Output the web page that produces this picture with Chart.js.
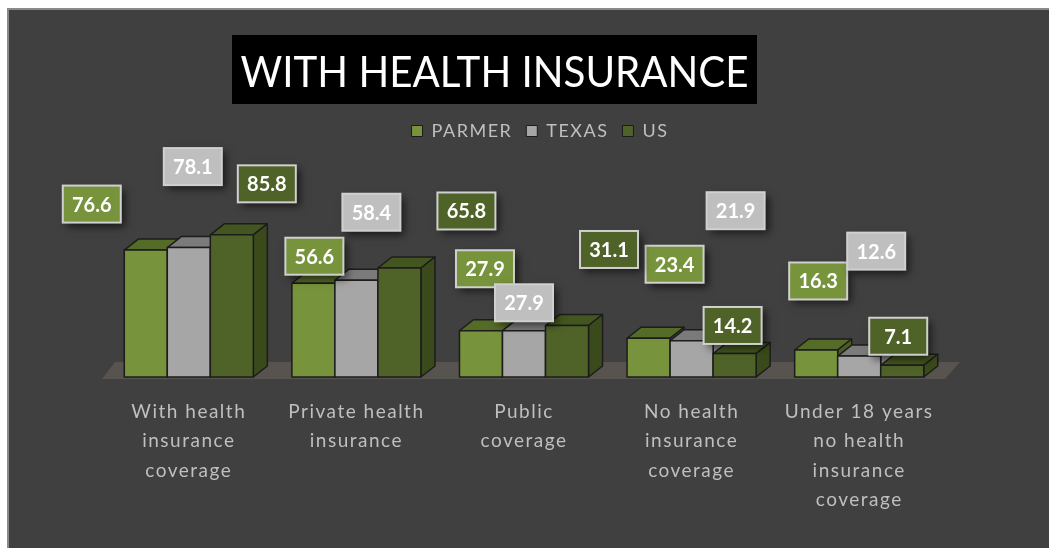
<!DOCTYPE html>
<html>
<head>
<meta charset="utf-8">
<script src="https://cdn.jsdelivr.net/npm/chart.js@4.4.0/dist/chart.umd.min.js"></script>
<style>
    html, body { margin: 0; padding: 0; background: #ffffff; }
    #wrap {
        position: absolute; left: 7px; top: 8px;
        width: 1040px; height: 538px;
        background: #404040;
        border-left: 2px solid #8a8a8a;
        border-top: 2px solid #8a8a8a;
    }
    canvas { display: block; }
</style>
</head>
<body>
<div id="wrap"><canvas id="healthChart" width="1040" height="538"></canvas></div>
<script>
// -------------------------------
// Data
// -------------------------------
const chartTitle = "WITH HEALTH INSURANCE";
const categories = [
    ["With health", "insurance", "coverage"],
    ["Private health", "insurance"],
    ["Public", "coverage"],
    ["No health", "insurance", "coverage"],
    ["Under 18 years", "no health", "insurance", "coverage"]
];
const seriesNames = ["PARMER", "TEXAS", "US"];
const parmerValues = [76.6, 56.6, 27.9, 23.4, 16.3];
const texasValues = [78.1, 58.4, 27.9, 21.9, 12.6];
const usValues = [85.8, 65.8, 31.1, 14.2, 7.1];

// colours: front, top, side, label box
const seriesColors = [
    { front: "#77933c", top: "#556b28", side: "#4a5e22", label: "#77933c" },
    { front: "#a6a6a6", top: "#7b7b7b", side: "#8a8a8a", label: "#bfbfbf" },
    { front: "#4f6228", top: "#44561f", side: "#3b4a1b", label: "#4f6228" }
];

// where each data label sits, relative to the top of its bar (Excel scattered them)
const labelOffsets = [
    [[-54, -46], [1, -27], [4, -62], [26, -74], [2, -69]],
    [[4, -81], [15, -68], [0, -28], [44, -130], [17, -105]],
    [[35, -51], [67, -57], [42, -76], [-2, -28], [-4, -29]]
];

const DEPTH_X = 14;
const DEPTH_Y = -11;
const FONT = "Lato";

// -------------------------------
// Letter spacing for legend + axis text (Excel export looks spaced out)
// -------------------------------
const spacing = {
    id: "spacing",
    beforeLayout(chart) { chart.ctx.letterSpacing = "1.5px"; },
    afterLayout(chart) {
        // legend in the original sits a bit right of centre
        chart.legend.left += 16;
        chart.legend.right += 16;
    },
    beforeDraw(chart) { chart.ctx.letterSpacing = "1.5px"; }
};

// -------------------------------
// Title in a black box
// -------------------------------
const titleBox = {
    id: "titleBox",
    beforeDraw(chart) {
        const ctx = chart.ctx;
        ctx.save();
        ctx.letterSpacing = "0px";
        ctx.fillStyle = "#000000";
        ctx.fillRect(223, 25, 525, 69);
        ctx.font = "43px " + FONT;
        ctx.fillStyle = "#ffffff";
        ctx.textAlign = "center";
        ctx.textBaseline = "alphabetic";
        const w = ctx.measureText(chartTitle).width;
        const sx = Math.min(1, 508 / w);
        ctx.translate(485.5, 77);
        ctx.scale(sx, 1);
        ctx.fillText(chartTitle, 0, 0);
        ctx.restore();
    }
};

// -------------------------------
// Floor + 3D columns (drawn left to right so faces hide properly)
// -------------------------------
const bar3d = {
    id: "bar3d",
    beforeDatasetsDraw(chart) {
        const { ctx, chartArea } = chart;
        const base = chart.scales.y.getPixelForValue(0);
        ctx.save();
        ctx.fillStyle = "#57534e";
        ctx.beginPath();
        ctx.moveTo(chartArea.left - 3, base + 2);
        ctx.lineTo(chartArea.left + 10, base - 15);
        ctx.lineTo(chartArea.right + 17, base - 15);
        ctx.lineTo(chartArea.right + 2, base + 2);
        ctx.closePath();
        ctx.fill();
        ctx.restore();
    },
    beforeDatasetDraw() {
        return false; // we draw the columns ourselves
    },
    afterDatasetsDraw(chart) {
        const ctx = chart.ctx;
        ctx.save();
        ctx.strokeStyle = "#1c1c1c";
        ctx.lineWidth = 1.5;
        ctx.lineJoin = "round";
        chart.data.datasets.forEach((ds, i) => {
            const col = seriesColors[i];
            chart.getDatasetMeta(i).data.forEach(bar => {
                const { x, y, width, base } = bar.getProps(["x", "y", "width", "base"], true);
                const l = x - width / 2;
                const r = x + width / 2;
                // top face
                ctx.fillStyle = col.top;
                ctx.beginPath();
                ctx.moveTo(l, y);
                ctx.lineTo(l + DEPTH_X, y + DEPTH_Y);
                ctx.lineTo(r + DEPTH_X, y + DEPTH_Y);
                ctx.lineTo(r, y);
                ctx.closePath();
                ctx.fill();
                ctx.stroke();
                // side face
                ctx.fillStyle = col.side;
                ctx.beginPath();
                ctx.moveTo(r, y);
                ctx.lineTo(r + DEPTH_X, y + DEPTH_Y);
                ctx.lineTo(r + DEPTH_X, base + DEPTH_Y);
                ctx.lineTo(r, base);
                ctx.closePath();
                ctx.fill();
                ctx.stroke();
                // front face
                ctx.fillStyle = col.front;
                ctx.fillRect(l, y, width, base - y);
                ctx.strokeRect(l, y, width, base - y);
            });
        });
        ctx.restore();
    }
};

// -------------------------------
// Boxed data labels
// -------------------------------
const boxLabels = {
    id: "boxLabels",
    afterDatasetsDraw(chart) {
        const ctx = chart.ctx;
        chart.data.datasets.forEach((ds, i) => {
            chart.getDatasetMeta(i).data.forEach((bar, j) => {
                const [dx, dy] = labelOffsets[i][j];
                const cx = bar.x + dx;
                const cy = bar.y + dy;
                ctx.save();
                ctx.letterSpacing = "0px";
                ctx.shadowColor = "rgba(0,0,0,0.6)";
                ctx.shadowBlur = 8;
                ctx.shadowOffsetX = 4;
                ctx.shadowOffsetY = 4;
                ctx.fillStyle = seriesColors[i].label;
                ctx.fillRect(cx - 29, cy - 18.5, 58, 37);
                ctx.shadowColor = "transparent";
                ctx.strokeStyle = "#d0d0d0";
                ctx.lineWidth = 2;
                ctx.strokeRect(cx - 29, cy - 18.5, 58, 37);
                ctx.fillStyle = "#ffffff";
                ctx.font = "bold 20px " + FONT;
                ctx.textAlign = "center";
                ctx.textBaseline = "middle";
                ctx.fillText(ds.data[j].toFixed(1), cx, cy + 1);
                ctx.restore();
            });
        });
    }
};

// -------------------------------
// Chart
// -------------------------------
const ctx = document.getElementById("healthChart").getContext("2d");
const healthChart = new Chart(ctx, {
    type: "bar",
    data: {
        labels: categories,
        datasets: [parmerValues, texasValues, usValues].map((values, i) => ({
            label: seriesNames[i],
            data: values,
            backgroundColor: seriesColors[i].front,
            borderColor: "#1c1c1c",
            borderWidth: 1,
            categoryPercentage: 0.77,
            barPercentage: 1
        }))
    },
    options: {
        responsive: false,
        animation: false,
        layout: { padding: { top: 98, left: 96, right: 106, bottom: 0 } },
        plugins: {
            legend: {
                position: "top",
                labels: {
                    color: "#bfbfbf",
                    font: { family: FONT, size: 18 },
                    boxWidth: 11,
                    boxHeight: 11,
                    padding: 14
                }
            },
            tooltip: { enabled: false }
        },
        scales: {
            x: {
                grid: { display: false, drawTicks: false },
                border: { display: false },
                ticks: {
                    color: "#bfbfbf",
                    font: { family: FONT, size: 19, lineHeight: 1.55 },
                    padding: 20,
                    maxRotation: 0,
                    autoSkip: false
                },
                afterFit(axis) { axis.height = 171; }
            },
            y: {
                display: false,
                min: 0,
                max: 137
            }
        }
    },
    plugins: [spacing, titleBox, bar3d, boxLabels]
});
</script>
</body>
</html>
